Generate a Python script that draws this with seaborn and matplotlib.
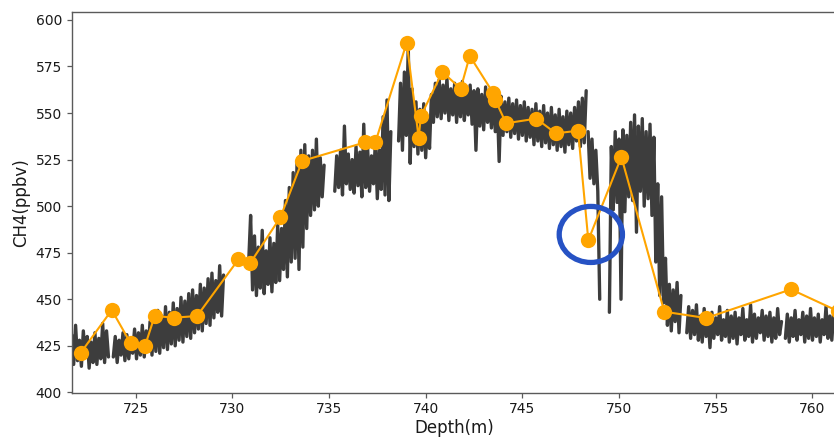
import numpy as np
import pandas as pd
import matplotlib
matplotlib.use("Agg")
import matplotlib.pyplot as plt
from matplotlib.patches import Ellipse
import seaborn as sns

# Continuous-flow CH4 record, one list per core section, sampled every 0.1 m
STEP = 0.1

sec_a_top = 721.6
sec_a = [418, 431, 415, 436, 417, 428, 414, 433, 419, 430, 413, 427, 416, 432,
         415, 429, 418, 437, 416, 433, 419]

sec_b_top = 723.85
sec_b = [419, 430, 416, 428, 420, 432, 417, 431, 418, 429, 421,
         434, 418, 432, 420, 436, 419, 433, 422, 438, 420,
         440, 422, 444, 421, 441, 424, 446, 423, 443, 426,
         448, 425, 445, 428, 451, 427, 449, 430, 453, 429,
         455, 432, 452, 434, 458, 433, 456, 437, 461, 436,
         464, 440, 460, 443, 468, 441, 463]

sec_c_top = 730.85
sec_c = [470, 495, 455, 484, 452, 478, 456, 487,
         453, 476, 458, 483, 454, 480, 459, 490,
         460, 488, 466, 503, 462, 510, 470, 518,
         472, 524, 466, 530, 478, 533, 488, 527,
         495, 530, 498, 536, 500, 526, 505, 522]

sec_d_top = 735.3
sec_d = [508, 527, 510, 530, 506, 543, 512, 528, 509, 525,
         507, 532, 511, 529, 505, 544, 510, 531, 508, 527,
         512, 535, 504, 530, 509, 548, 506, 557, 503, 540]

sec_e_top = 738.6
sec_e = [535, 566, 530, 572, 538, 586, 523, 563, 532, 556,
         528, 552, 530, 555, 526, 548, 531, 560, 545, 566,
         548, 568, 547, 565, 550, 569, 546, 563, 549, 566,
         545, 564, 548, 567, 546, 561, 549, 565, 544, 562,
         530, 563, 543, 560, 541, 564, 545, 558, 542, 561,
         540, 557, 524, 559, 538, 556, 540, 558, 537, 555,
         539, 557, 536, 554, 538, 556, 535, 553, 537, 552,
         533, 555, 535, 551, 532, 554, 534, 550, 531, 553,
         533, 549, 530, 552, 532, 548, 529, 551, 533, 550,
         531, 553, 535, 556, 532, 558, 534, 562]

sec_f_top = 748.4
sec_f = [540, 515, 536, 512, 530, 508, 450]

sec_g_top = 749.5
sec_g = [443, 532, 498, 540, 502, 536, 450, 541, 497, 538,
         505, 545, 503, 549, 486, 543, 508, 547, 500, 540,
         504, 544, 495, 537, 470, 512, 452, 505, 448, 472,
         436, 458, 433, 455, 438, 459, 432, 452]

sec_h_top = 753.5
sec_h = [432, 446, 429, 444, 431, 447, 428, 441, 427, 445,
         430, 442, 424, 443, 429, 440, 431, 446, 428, 439,
         430, 444, 427, 441, 429, 443, 426, 440, 431, 445,
         428, 439, 430, 447, 427, 442, 429, 440, 432, 444,
         428, 441, 430, 443, 427, 440, 429, 445, 431, 438]

sec_i_top = 758.6
sec_i = [429, 442, 427, 440, 430, 444, 428, 439, 431, 443,
         427, 441, 429, 445, 428, 440, 430, 442, 427, 439,
         431, 446, 429, 441, 428, 443, 430]

# Discrete CH4 measurements
sample_depth = [722.17, 723.77, 724.75, 725.49, 725.99, 727.01, 728.18, 730.32,
                730.92, 732.49, 733.62, 736.88, 737.40, 739.02, 739.64, 739.75,
                740.86, 741.81, 742.28, 743.50, 743.60, 744.16, 745.72, 746.73,
                747.88, 748.41, 750.12, 752.34, 754.50, 758.89, 761.30]
sample_ch4 = [421.3, 444.2, 426.3, 425.0, 441.0, 440.1, 441.0, 471.4,
              469.3, 494.0, 524.3, 534.3, 534.3, 587.8, 536.6, 548.3,
              572.1, 563.1, 580.7, 560.6, 557.0, 544.5, 547.0, 539.1,
              540.5, 481.7, 526.4, 443.3, 439.9, 455.3, 443.7]

# Suspect sample highlighted with a ring
flag_depth = 748.54
flag_ch4 = 484.8

x_ticks = [725, 730, 735, 740, 745, 750, 755, 760]
y_ticks = [400, 425, 450, 475, 500, 525, 550, 575, 600]

sections = [(sec_a_top, sec_a), (sec_b_top, sec_b), (sec_c_top, sec_c),
            (sec_d_top, sec_d), (sec_e_top, sec_e), (sec_f_top, sec_f),
            (sec_g_top, sec_g), (sec_h_top, sec_h), (sec_i_top, sec_i)]
frames = []
for k, (top, vals) in enumerate(sections):
    depth = np.round(top + STEP * np.arange(len(vals)), 3)
    frames.append(pd.DataFrame({"depth": depth, "ch4": vals, "section": k}))
trace = pd.concat(frames, ignore_index=True)

samples = pd.DataFrame({"depth": sample_depth, "ch4": sample_ch4})

sns.set_theme(style="ticks")
plt.rcParams["font.family"] = ["DejaVu Sans"]

fig = plt.figure(figsize=(8.34, 4.38), dpi=100)
ax = fig.add_axes([0.0860, 0.1034, 0.9181, 0.8685])

sns.lineplot(data=trace, x="depth", y="ch4", units="section", estimator=None,
             sort=False, color="#3d3d3d", linewidth=2.4, ax=ax, zorder=2)
sns.lineplot(data=samples, x="depth", y="ch4", sort=False, color="#FFA500",
             linewidth=1.5, marker="o", markersize=11, markeredgewidth=0,
             ax=ax, zorder=3)

ax.add_patch(Ellipse((flag_depth, flag_ch4), width=3.27, height=30.1,
                     facecolor="none", edgecolor="#2652c4", linewidth=3.8,
                     zorder=5))

ax.set_xlim(721.70, 761.29)
ax.set_ylim(399.8, 604.1)
ax.set_xticks(x_ticks)
ax.set_yticks(y_ticks)
ax.set_xlabel("Depth(m)", fontsize=12, color="#1a1a1a", labelpad=2)
ax.set_ylabel("CH4(ppbv)", fontsize=12, color="#1a1a1a")
ax.tick_params(axis="both", labelsize=10, colors="#5a5a5a", labelcolor="#1a1a1a",
               length=3.5, width=0.9)
for side in ["left", "bottom", "top", "right"]:
    ax.spines[side].set_color("#5a5a5a")
    ax.spines[side].set_linewidth(1.0)

fig.savefig("out.png", dpi=100)
